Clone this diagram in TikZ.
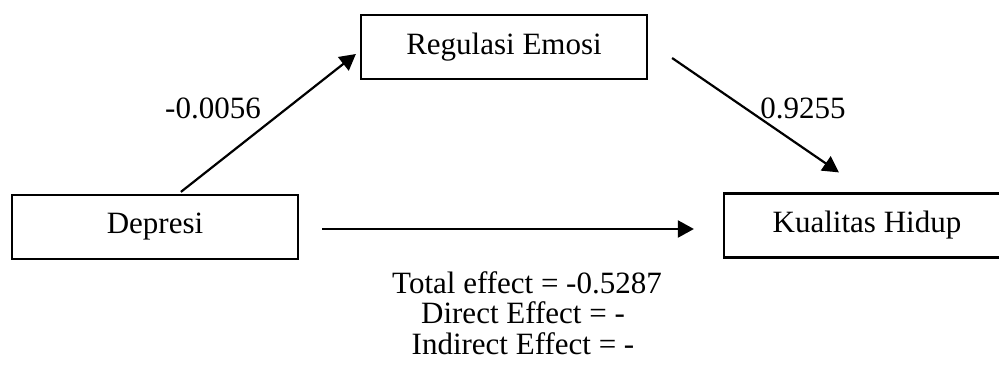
\documentclass[tikz,border=0pt]{standalone}
\usepackage{fontspec}
\setmainfont{Liberation Serif}
\usetikzlibrary{arrows.meta,calc}
\begin{document}
\begin{tikzpicture}[x=1pt,y=-1pt,
  varbox/.style={draw,line width=2.2pt,minimum width=286pt,minimum height=64pt,inner sep=0pt,font=\fontsize{31}{31}\selectfont},
  lbl/.style={font=\fontsize{31}{31}\selectfont,inner sep=0pt},
  conn/.style={line width=2.2pt,-{Triangle[length=16pt,width=17pt]}}]
\useasboundingbox (0,0) rectangle (999,378);
\node[varbox] (reg) at (504,47) {Regulasi Emosi};
\node[varbox] (dep) at (155,227) {Depresi};
\node[varbox] (kh) at (867,225.5) {Kualitas Hidup};
\coordinate (a1s) at ($(dep.north west)+(170,-2)$);
\coordinate (a1e) at ($(reg.west)+(-4,7)$);
\coordinate (a2s) at ($(reg.east)+(24,11)$);
\coordinate (a2e) at ($(kh.north west)+(116,-20)$);
\coordinate (a3s) at ($(dep.east)+(23,2)$);
\coordinate (a3e) at ($(kh.west)+(-29,3.5)$);
\draw[conn] (a1s) -- (a1e);
\draw[conn] (a2s) -- (a2e);
\draw[conn] (a3s) -- (a3e);
\node[lbl] (l1) at (213,108) {-0.0056};
\node[lbl] (l2) at (803,108) {0.9255};
\node[lbl,anchor=base] (t1) at (527,293) {Total effect = -0.5287};
\node[lbl,anchor=base] (t2) at (523,323.5) {Direct Effect = -};
\node[lbl,anchor=base] (t3) at (523,354) {Indirect Effect = -};
\end{tikzpicture}
\end{document}
